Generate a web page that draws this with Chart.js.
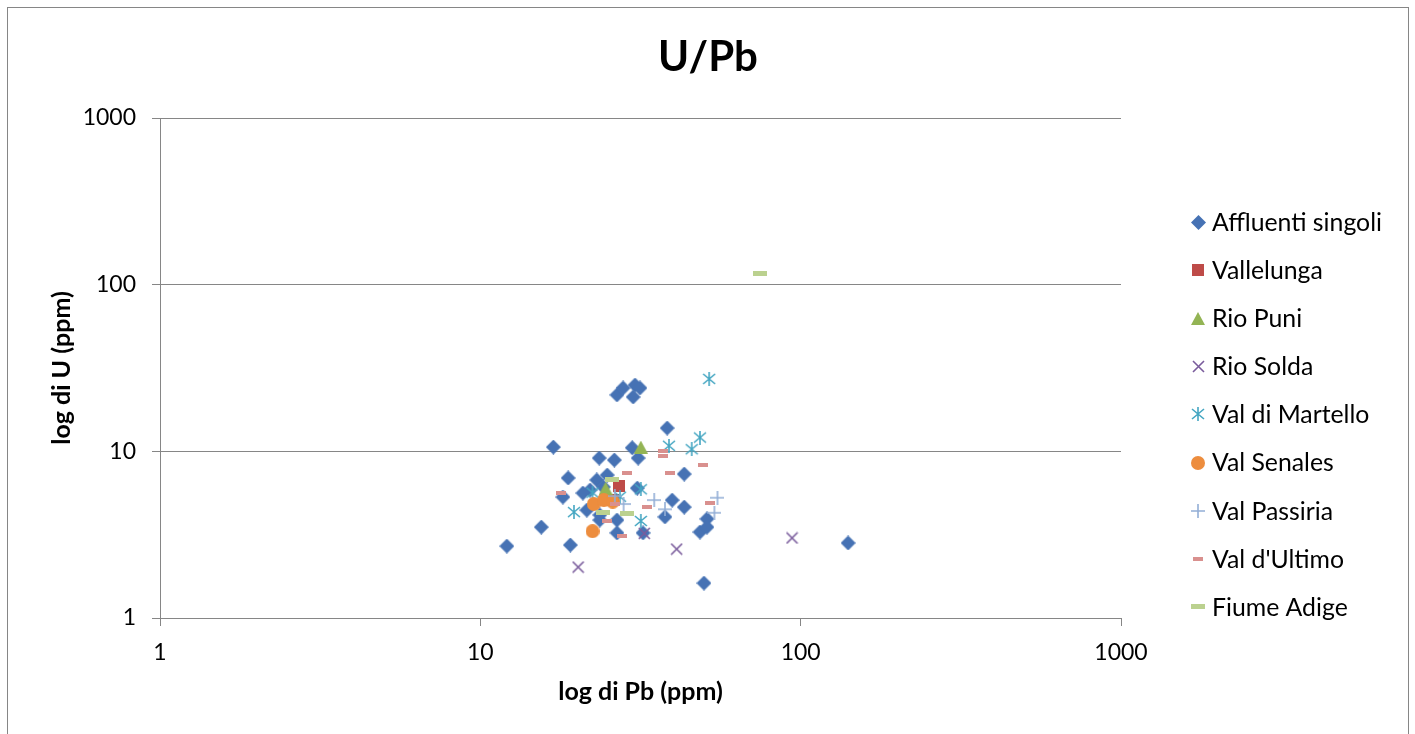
<!DOCTYPE html>
<html>
<head>
<meta charset="utf-8">
<script src="https://cdn.jsdelivr.net/npm/chart.js@4"></script>
<style>
  html, body { margin: 0; padding: 0; background: #fff; }
  #wrap { width: 1415px; height: 734px; }
</style>
</head>
<body>
<div id="wrap"><canvas id="upb"></canvas></div>
<script>
// Series labels (legend order)
var seriesNames = ['Affluenti singoli', 'Vallelunga', 'Rio Puni', 'Rio Solda', 'Val di Martello',
                   'Val Senales', 'Val Passiria', "Val d'Ultimo", 'Fiume Adige'];

// Pb (x) and U (y) values in ppm
var affluentiPb = [12.1, 15.5, 18.1, 18.8, 16.9, 19.1, 22.0, 23.5, 26.2, 24.9, 23.1, 29.8, 31.1, 26.7, 27.9, 30.4, 31.5, 30.0,
                   38.3, 43.3, 30.9, 39.7, 43.3, 37.7, 32.2, 26.7, 26.7, 23.6, 21.5, 48.5, 51.0, 51.0, 49.9, 140.6, 24.2, 20.9, 23.6];
var affluentiU  = [2.70, 3.51, 5.32, 6.92, 10.6, 2.74, 5.86, 9.12, 8.87, 7.21, 6.73, 10.5, 9.12, 21.8, 24.0, 25.0, 24.0, 21.2,
                   13.8, 7.31, 6.02, 5.10, 4.63, 4.04, 3.24, 3.87, 3.24, 3.87, 4.44, 3.28, 3.93, 3.51, 1.62, 2.82, 6.11, 5.62, 4.15];
var vallelungaPb = [27.1, 26.0];
var vallelungaU  = [6.19, 5.10];
var rioPuniPb = [31.7, 24.6];
var rioPuniU  = [10.6, 6.0];
var rioSoldaPb = [20.2, 32.5, 41.0, 94.0];
var rioSoldaU  = [2.02, 3.22, 2.59, 3.02];
var martelloPb = [51.8, 38.8, 45.7, 48.5, 31.7, 31.7, 19.6, 22.4, 27.3];
var martelloU  = [27.2, 10.8, 10.3, 12.1, 5.92, 3.82, 4.32, 5.65, 5.34];
var senalesPb = [22.4, 22.6, 24.3, 25.9];
var senalesU  = [3.32, 4.83, 5.10, 4.99];
var passiriaPb = [26.3, 28.0, 34.9, 37.7, 55.0, 53.8];
var passiriaU  = [5.39, 4.83, 5.10, 4.49, 5.27, 4.28];
var ultimoPb = [37.1, 37.1, 28.6, 39.1, 49.7, 17.9, 26.3, 33.1, 52.2, 24.9, 27.6];
var ultimoU  = [10.1, 9.41, 7.44, 7.44, 8.24, 5.60, 4.83, 4.65, 4.92, 3.82, 3.10];
var adigePb = [74.7, 25.7, 24.2, 28.6];
var adigeU  = [117.4, 6.73, 4.32, 4.22];

var axisTicks = [1, 10, 100, 1000];

var seriesPb = [affluentiPb, vallelungaPb, rioPuniPb, rioSoldaPb, martelloPb, senalesPb, passiriaPb, ultimoPb, adigePb];
var seriesU  = [affluentiU, vallelungaU, rioPuniU, rioSoldaU, martelloU, senalesU, passiriaU, ultimoU, adigeU];

// Excel-like marker shapes drawn on small canvases
function marker(kind, color, w, h) {
    var c = document.createElement('canvas');
    c.width = w; c.height = h;
    var g = c.getContext('2d');
    var cx = w / 2, cy = h / 2;
    g.fillStyle = color;
    g.strokeStyle = color;
    g.lineWidth = 1.6;
    g.beginPath();
    if (kind === 'diamond') {
        g.moveTo(cx, 0); g.lineTo(w, cy); g.lineTo(cx, h); g.lineTo(0, cy); g.closePath(); g.fill();
    } else if (kind === 'square') {
        g.fillRect(0, 0, w, h);
    } else if (kind === 'triangle') {
        g.moveTo(cx, 0); g.lineTo(w, h); g.lineTo(0, h); g.closePath(); g.fill();
    } else if (kind === 'x') {
        g.moveTo(1, 1); g.lineTo(w - 1, h - 1); g.moveTo(w - 1, 1); g.lineTo(1, h - 1); g.stroke();
    } else if (kind === 'star') {
        g.moveTo(cx, 0); g.lineTo(cx, h);
        g.moveTo(1, 2); g.lineTo(w - 1, h - 2); g.moveTo(w - 1, 2); g.lineTo(1, h - 2); g.stroke();
    } else if (kind === 'circle') {
        g.arc(cx, cy, w / 2, 0, Math.PI * 2); g.fill();
    } else if (kind === 'plus') {
        g.moveTo(cx, 0); g.lineTo(cx, h); g.moveTo(0, cy); g.lineTo(w, cy); g.stroke();
    } else if (kind === 'dash') {
        g.fillRect(0, 0, w, h);
    }
    return c;
}

var seriesMarkers = [
    marker('diamond', '#4672B4', 15, 15),
    marker('square', '#BE4B48', 12, 12),
    marker('triangle', '#93B454', 14, 13),
    marker('x', '#7A5C9C', 13, 13),
    marker('star', '#44A6C2', 14, 14),
    marker('circle', '#ED8D3E', 14, 14),
    marker('plus', '#93AED6', 14, 14),
    marker('dash', '#D9908E', 10, 4),
    marker('dash', '#BBD18F', 14, 5)
];

var datasets = seriesNames.map(function (name, i) {
    return {
        label: name,
        data: seriesPb[i].map(function (pb, j) { return { x: pb, y: seriesU[i][j] }; }),
        pointStyle: seriesMarkers[i],
        pointRadius: 7,
        pointHoverRadius: 7,
        showLine: false,
        order: seriesNames.length - i
    };
});

var fontName = 'Lato, "Open Sans", sans-serif';

var decorPlugin = {
    id: 'decor',
    beforeDraw: function (chart) {
        var ctx = chart.ctx;
        ctx.save();
        ctx.fillStyle = '#fff';
        ctx.fillRect(0, 0, chart.width, chart.height);
        ctx.strokeStyle = '#868686';
        ctx.lineWidth = 1;
        ctx.strokeRect(7.5, 7.5, 1401, 740);
        ctx.restore();
    },
    afterDraw: function (chart) {
        var ctx = chart.ctx;
        ctx.save();
        ctx.fillStyle = '#000';
        ctx.textBaseline = 'middle';
        // title
        ctx.font = 'bold 42px ' + fontName;
        ctx.textAlign = 'center';
        ctx.fillText('U/Pb', 708, 57);
        // legend
        ctx.font = '24.8px ' + fontName;
        ctx.textAlign = 'left';
        chart.data.datasets.forEach(function (ds, i) {
            var y = 222 + i * 48.1;
            var m = ds.pointStyle;
            ctx.drawImage(m, Math.round(1198 - m.width / 2), Math.round(y - m.height / 2));
            ctx.fillText(ds.label, 1212, y + 1);
        });
        ctx.restore();
    }
};

new Chart(document.getElementById('upb'), {
    type: 'scatter',
    data: { datasets: datasets },
    plugins: [decorPlugin],
    options: {
        responsive: true,
        maintainAspectRatio: false,
        animation: false,
        layout: { padding: { top: 118, right: 294, left: 0, bottom: 0 } },
        plugins: {
            legend: { display: false },
            tooltip: { enabled: false }
        },
        scales: {
            x: {
                type: 'logarithmic',
                min: 1,
                max: 1000,
                afterBuildTicks: function (s) { s.ticks = axisTicks.map(function (v) { return { value: v }; }); },
                afterFit: function (s) { s.height = 116; },
                grid: { drawOnChartArea: false, color: '#868686', tickLength: 8 },
                border: { color: '#868686' },
                ticks: { color: '#000', font: { family: fontName, size: 23 }, padding: 13,
                         maxRotation: 0, autoSkip: false, callback: function (v) { return String(v); } },
                title: { display: true, text: 'log di Pb (ppm)', color: '#000',
                         font: { family: fontName, size: 25, weight: 'bold' }, padding: { top: 0, bottom: 27 } }
            },
            y: {
                type: 'logarithmic',
                min: 1,
                max: 1000,
                afterBuildTicks: function (s) { s.ticks = axisTicks.map(function (v) { return { value: v }; }); },
                afterFit: function (s) { s.width = 160; },
                grid: { color: '#868686', tickLength: 8 },
                border: { color: '#868686' },
                ticks: { color: '#000', font: { family: fontName, size: 23 }, padding: 16,
                         autoSkip: false, callback: function (v) { return String(v); } },
                title: { display: true, text: 'log di U (ppm)', color: '#000',
                         font: { family: fontName, size: 25, weight: 'bold' }, padding: { top: 47, bottom: 0 } }
            }
        }
    }
});
</script>
</body>
</html>
